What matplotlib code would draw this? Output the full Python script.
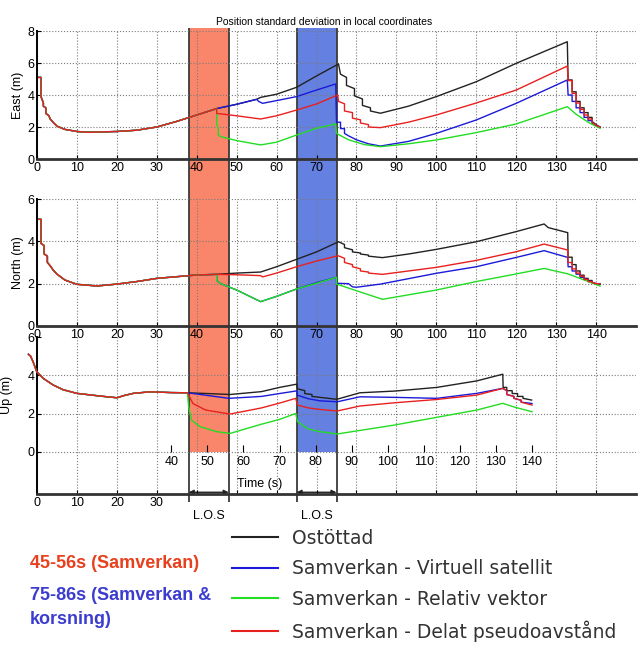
import matplotlib.pyplot as plt

plt.rcParams.update({'font.family': ['Liberation Sans', 'DejaVu Sans'], 'font.size': 8.5})

# colours of the four receiver solutions
black, blue, green, red = '#222222', '#1a1ad8', '#22dd22', '#e8201e'
labels = ['Ostöttad', 'Samverkan - Virtuell satellit',
          'Samverkan - Relativ vektor', 'Samverkan - Delat pseudoavstånd']

# shaded intervals (s) on the East/North time scale
los_spans = [(38, 48), (65, 75)]
span_colors = ['#f9866a', '#6480e0']

# ---- East (m) ----
east_t0 = [0.3, 1.0, 1.0, 1.6, 1.6, 2.2, 2.2, 3.0, 3.3, 4, 5, 7, 10, 13, 20, 25, 30, 35, 40, 45]
east_v0 = [5.1, 5.1, 3.9, 3.5, 3.3, 3.2, 2.85, 2.7, 2.5, 2.3, 2.05, 1.85, 1.72, 1.67, 1.72, 1.8, 2.0, 2.35, 2.75, 3.15]
end_t = [133, 134, 134, 135, 135, 136, 136, 137, 137, 138, 138, 139, 139, 140, 141]

east_black_t = [50, 55, 56, 60, 65, 70, 75.5, 76, 77.5, 77.5, 79.5, 79.5, 81.5, 81.5, 83.5, 83.5, 86, 93, 100, 110, 120, 132.8] + end_t
east_black_v = [3.42, 3.73, 3.85, 4.05, 4.48, 5.19, 5.94, 5.3, 5.1, 4.6, 4.4, 3.95, 3.75, 3.35, 3.2, 3.0, 2.86, 3.3, 3.9, 4.83, 5.98, 7.33,
                4.94, 4.94, 4.2, 4.2, 3.6, 3.6, 3.2, 3.2, 2.9, 2.9, 2.6, 2.6, 2.35, 2.15, 2.0]
east_blue_t = [50, 55, 55.5, 56.5, 60, 65, 70, 74.8, 75, 76, 76, 77, 77, 78, 80, 83, 86, 93, 100, 110, 120, 132.8] + end_t
east_blue_v = [3.42, 3.73, 3.6, 3.48, 3.65, 3.9, 4.31, 4.69, 2.3, 2.3, 1.9, 1.9, 1.6, 1.45, 1.2, 0.95, 0.81, 1.1, 1.6, 2.44, 3.48, 4.94,
               4.0, 4.0, 3.6, 3.6, 3.2, 3.2, 2.9, 2.9, 2.6, 2.6, 2.4, 2.4, 2.2, 2.1, 2.0]
east_green_t = [45, 45.4, 45.4, 46, 50, 56, 60, 65, 70, 74.8, 75, 78, 82, 86, 93, 100, 110, 120, 132.8, 135, 138, 141]
east_green_v = [2.2, 1.9, 1.5, 1.4, 1.15, 0.88, 1.05, 1.5, 1.92, 2.19, 1.6, 1.2, 0.9, 0.77, 0.95, 1.19, 1.65, 2.19, 3.27, 2.8, 2.3, 1.92]
east_red_t = [45, 50, 56, 60, 65, 70, 75.3, 75.5, 77, 77, 79, 79, 81, 81, 83, 83, 86, 93, 100, 110, 120, 132.8] + end_t
east_red_v = [2.85, 2.7, 2.5, 2.7, 3.06, 3.44, 4.0, 3.6, 3.45, 3.0, 2.9, 2.55, 2.45, 2.25, 2.15, 2.0, 1.96, 2.3, 2.75, 3.5, 4.31, 5.81,
              4.9, 4.9, 4.1, 4.1, 3.5, 3.5, 3.1, 3.1, 2.75, 2.75, 2.5, 2.5, 2.3, 2.1, 2.0]

# ---- North (m) ----
north_t0 = [0.4, 1.0, 1.0, 1.8, 1.8, 2.6, 2.6, 3.5, 4, 5, 7, 10, 15, 20, 25, 30, 35, 40, 45]
north_v0 = [5.04, 5.04, 3.9, 3.8, 3.4, 3.3, 3.0, 2.8, 2.65, 2.45, 2.17, 1.97, 1.89, 1.98, 2.1, 2.25, 2.33, 2.41, 2.44]
north_black_t = [50, 56, 60, 65, 70, 75.5, 77, 77, 79, 79, 81, 81, 83, 83, 86.5, 93, 100, 110, 120, 127, 128, 132.9] + end_t
north_black_v = [2.5, 2.55, 2.8, 3.15, 3.5, 3.98, 3.85, 3.7, 3.6, 3.5, 3.45, 3.4, 3.35, 3.3, 3.23, 3.4, 3.62, 3.98, 4.46, 4.82, 4.65, 4.41,
                 3.25, 3.25, 2.9, 2.9, 2.6, 2.6, 2.4, 2.4, 2.25, 2.25, 2.15, 2.15, 2.05, 2.0, 1.98]
north_blue_t = [45, 46, 50, 56, 60, 65, 70, 75, 75, 78, 79, 80, 86, 100, 110, 120, 127, 132.9] + end_t
north_blue_v = [2.15, 2.0, 1.7, 1.15, 1.4, 1.75, 2.05, 2.3, 2.02, 2.0, 1.85, 1.83, 1.98, 2.49, 2.8, 3.24, 3.56, 3.24,
                2.8, 2.8, 2.6, 2.6, 2.45, 2.45, 2.3, 2.3, 2.2, 2.2, 2.1, 2.1, 2.05, 2.0, 2.0]
north_green_t = [45, 46, 50, 56, 60, 65, 70, 75, 75, 86.5, 100, 110, 120, 127, 133, 141]
north_green_v = [2.15, 2.0, 1.7, 1.15, 1.4, 1.75, 2.02, 2.3, 1.98, 1.26, 1.7, 2.1, 2.46, 2.72, 2.46, 1.89]
north_red_t = [50, 56, 56.5, 60, 65, 70, 75.4, 77, 77, 79, 79, 81, 81, 83, 83, 86.5, 100, 110, 120, 127, 132.9] + end_t
north_red_v = [2.42, 2.38, 2.32, 2.5, 2.8, 3.07, 3.32, 3.2, 3.0, 2.9, 2.8, 2.7, 2.6, 2.55, 2.5, 2.44, 2.77, 3.1, 3.51, 3.87, 3.59,
               3.0, 3.0, 2.7, 2.7, 2.5, 2.5, 2.35, 2.35, 2.2, 2.2, 2.1, 2.1, 2.05, 2.0, 2.0]

# ---- Up (m), drawn on its own (shorter) time axis ----
up_t0 = [0.4, 1.0, 1.7, 2.7, 4.5, 7.3, 10, 13.8, 20.2, 24.9, 27, 29.5, 34.1, 40, 44.5]
up_v0 = [5.1, 5.0, 4.7, 4.19, 3.84, 3.49, 3.25, 3.06, 2.92, 2.83, 2.95, 3.06, 3.14, 3.1, 3.09]
up_black_t = [50, 56.3, 65, 70, 74.8, 75, 77, 77, 79, 79, 81.2, 85.9, 92.3, 102, 113.6, 124.7, 131.9,
              132, 133, 133, 134.5, 134.5, 136, 136, 137.5, 137.5, 139.9]
up_black_v = [3.05, 3.0, 3.15, 3.37, 3.54, 3.3, 3.2, 3.05, 3.0, 2.9, 2.85, 2.75, 3.09, 3.18, 3.37, 3.71, 4.06,
              3.37, 3.37, 3.2, 3.2, 3.05, 3.05, 2.9, 2.9, 2.8, 2.71]
up_blue_t = [50, 56, 65, 70, 74.8, 75, 78, 81.2, 86, 92.3, 102, 113.6, 124.7, 131.9, 133, 133, 135, 135, 137, 137, 140]
up_blue_v = [2.95, 2.8, 2.9, 3.05, 3.19, 2.96, 2.78, 2.67, 2.62, 2.88, 2.85, 2.8, 3.06, 3.32, 3.2, 3.0, 2.9, 2.8, 2.7, 2.6, 2.53]
up_green_t = [44.8, 45.6, 48, 52.6, 56.3, 65, 70, 74.5, 75, 78, 81.2, 86, 102, 113.6, 124.7, 131.9, 135, 140]
up_green_v = [2.36, 1.66, 1.32, 1.06, 0.97, 1.45, 1.7, 2.01, 1.58, 1.2, 1.06, 0.94, 1.41, 1.81, 2.19, 2.54, 2.35, 2.1]
up_red_t = [46, 49.5, 56.3, 65, 70, 74.5, 75, 78, 81.2, 86, 92.3, 102, 113.6, 124.7, 131.9, 133, 133, 135, 135, 137, 137, 140]
up_red_v = [2.53, 2.19, 1.98, 2.3, 2.55, 2.8, 2.45, 2.3, 2.22, 2.14, 2.4, 2.57, 2.74, 2.97, 3.32, 3.2, 3.0, 2.9, 2.8, 2.7, 2.6, 2.45]

W, H = 639, 648


def box(x0, x1, ytop, ybot):
    """Axes rectangle from pixel edges of the 639x648 canvas."""
    return [x0 / W, 1 - ybot / H, (x1 - x0) / W, (ybot - ytop) / H]


def style(ax, ylim, yticks):
    ax.set_facecolor('none')
    ax.set_xlim(0, 150)
    ax.set_ylim(*ylim)
    ax.set_xticks(range(0, 141, 10))
    ax.set_yticks(yticks)
    ax.grid(True, linestyle=':', color='#7a7a7a', linewidth=0.8)
    for s in ['top', 'right']:
        ax.spines[s].set_visible(False)
    ax.spines['bottom'].set_linewidth(2)
    ax.spines['bottom'].set_color('#333333')
    ax.spines['left'].set_linewidth(1.4)
    ax.tick_params(direction='in', length=3, pad=2, labelsize=9)


def draw(ax, t0, v0, series):
    lines = []
    for (t, v), c in zip(series, [black, blue, green, red]):
        # every solution shares the common start, then splits at 45 s
        ln, = ax.plot(t0 + t, v0 + v, color=c, lw=1.0, clip_on=False)
        lines.append(ln)
    return lines


fig = plt.figure(figsize=(6.39, 6.48), dpi=100)

# shaded L.O.S intervals behind everything
ov = fig.add_axes(box(37, 636, 28, 452), zorder=0)
ov.set_xlim(0, 150)
ov.set_ylim(0, 1)
ov.axis('off')
for (a, b), c in zip(los_spans, span_colors):
    ov.axvspan(a, b, color=c, lw=0)
    ov.vlines([a, b], -0.118, 1, colors='#3a3a3a', lw=1.3, clip_on=False)
    ov.annotate('', xy=(b, -0.095), xytext=(a, -0.095), annotation_clip=False,
                arrowprops=dict(arrowstyle='<|-|>', color='#222222', lw=1.0, mutation_scale=7,
                                shrinkA=0, shrinkB=0))
    ov.text((a + b) / 2, -0.15, 'L.O.S', ha='center', va='center', fontsize=9)

ax1 = fig.add_axes(box(37, 636, 31, 159), zorder=1)
style(ax1, (0, 8), [0, 2, 4, 6, 8])
handles = draw(ax1, east_t0, east_v0, [(east_black_t, east_black_v), (east_blue_t, east_blue_v),
                                       (east_green_t, east_green_v), (east_red_t, east_red_v)])
ax1.set_ylabel('East (m)', labelpad=2, fontsize=9)
ax1.set_title('Position standard deviation in local coordinates', fontsize=7.5, pad=4, x=0.48)

ax2 = fig.add_axes(box(37, 636, 199, 326), zorder=1)
style(ax2, (0, 6), [0, 2, 4, 6])
draw(ax2, north_t0, north_v0, [(north_black_t, north_black_v), (north_blue_t, north_blue_v),
                               (north_green_t, north_green_v), (north_red_t, north_red_v)])
ax2.set_ylabel('North (m)', labelpad=2, fontsize=9)

ax3 = fig.add_axes(box(37, 636, 337, 494), zorder=1)
style(ax3, (-2.2, 6), [0, 2, 4, 6])
ax3.set_xticklabels([str(v) if v < 40 else '' for v in range(0, 141, 10)])
ax3.yaxis.get_gridlines()[-1].set_visible(False)
ax3.set_ylabel('Up (m)', labelpad=2, fontsize=9)
ax3.yaxis.set_label_coords(-0.04, 0.63)

ax3b = fig.add_axes(box(27, 532, 337, 452), zorder=2)
ax3b.set_facecolor('none')
ax3b.set_xlim(0, 140)
ax3b.set_ylim(0, 6)
for s in ax3b.spines.values():
    s.set_visible(False)
ax3b.set_yticks([])
ax3b.set_xticks(range(40, 141, 10))
ax3b.tick_params(direction='in', length=5, pad=3, labelsize=9)
draw(ax3b, up_t0, up_v0, [(up_black_t, up_black_v), (up_blue_t, up_blue_v),
                          (up_green_t, up_green_v), (up_red_t, up_red_v)])
ax3b.set_xlabel('Time (s)', fontsize=9)
ax3b.xaxis.set_label_coords(0.461, -0.23)

# annotations and legend below the plots
fig.text(30 / W, 1 - 563 / H, '45-56s (Samverkan)', color='#e8401c', fontsize=13,
         fontweight='bold', va='center')
fig.text(30 / W, 1 - 595 / H, '75-86s (Samverkan &', color='#3c3cd0', fontsize=13,
         fontweight='bold', va='center')
fig.text(30 / W, 1 - 620 / H, 'korsning)', color='#3c3cd0', fontsize=13,
         fontweight='bold', va='center')

leg = fig.legend(handles, labels, loc='upper left', bbox_to_anchor=(224 / W, 1 - 521 / H),
                 frameon=False, handlelength=2.5, handletextpad=0.75, labelspacing=0.62,
                 borderaxespad=0, prop={'family': 'DejaVu Sans', 'size': 13.5})
for txt in leg.get_texts():
    txt.set_color('#333333')
for ln in leg.get_lines():
    ln.set_linewidth(1.5)

fig.savefig('out.png', dpi=100)
